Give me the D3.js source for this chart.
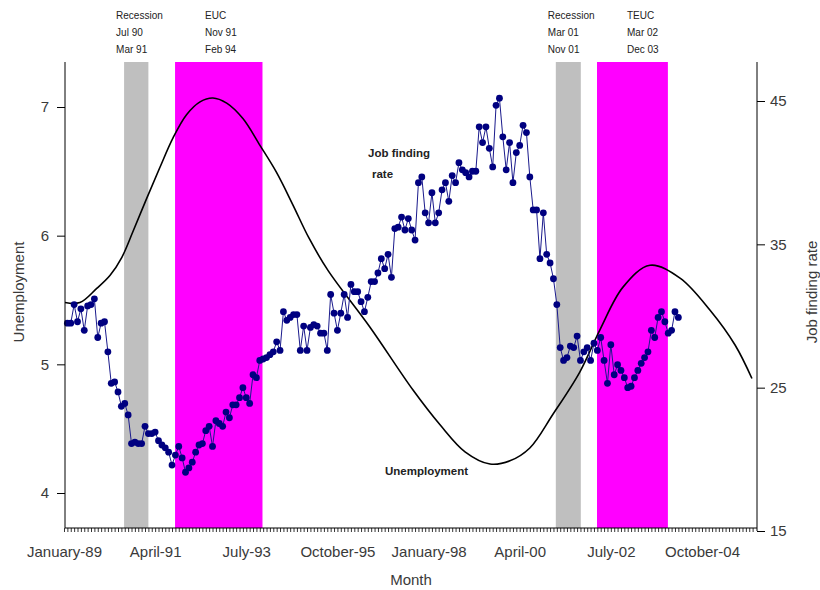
<!DOCTYPE html>
<html>
<head>
<meta charset="utf-8">
<script src="https://cdn.jsdelivr.net/npm/d3@7"></script>
<style>
  html, body { margin: 0; padding: 0; background: #fff; }
  svg { display: block; font-family: "Liberation Sans", Arial, sans-serif; }
</style>
</head>
<body>
<svg id="chart" width="820" height="590"></svg>
<script>
// ---------- DATA ----------
// x axis: months since January 1989
const xTickMonths = [0, 27, 54, 81, 108, 135, 162, 189];
const xTickLabels = ["January-89", "April-91", "July-93", "October-95", "January-98", "April-00", "July-02", "October-04"];
const leftTicks = [4, 5, 6, 7];
const rightTicks = [15, 25, 35, 45];

// shaded periods (months since Jan-89)
const bandNames  = ["Recession", "EUC", "Recession", "TEUC"];
const bandFrom   = ["Jul 90", "Nov 91", "Mar 01", "Mar 02"];
const bandTo     = ["Mar 91", "Feb 94", "Nov 01", "Dec 03"];
const bandStart  = [17.8, 32.9, 145.7, 157.9];
const bandEnd    = [25.0, 58.8, 153.1, 178.9];
const bandKind   = ["recession", "extension", "recession", "extension"];

// job finding rate (right axis), monthly from Feb-89
const jfrFirstMonth = 1;
const jobFinding = [
  29.5, 29.5, 30.8, 29.6, 30.5, 29.0, 30.7, 30.8, 31.2, 28.5, 29.5, 29.6,
  27.5, 25.3, 25.4, 24.7, 23.7, 23.9, 23.1, 21.1, 21.2, 21.1, 21.1, 22.3,
  21.8, 21.8, 21.9, 21.3, 21.0, 20.8, 20.5, 19.6, 20.3, 20.9, 20.1, 19.1,
  19.4, 19.8, 20.5, 21.0, 21.1, 22.0, 22.3, 20.9, 22.7, 22.5, 22.3, 23.3,
  22.9, 23.8, 23.8, 24.3, 25.0, 24.3, 23.9, 25.9, 25.7, 26.9, 27.0, 27.1,
  27.3, 27.5, 28.2, 27.6, 30.3, 29.7, 29.9, 30.1, 30.1, 27.6, 29.3, 27.6,
  29.2, 29.4, 29.3, 28.8, 28.8, 27.6, 31.5, 30.2, 29.0, 30.2, 31.5, 29.9,
  32.2, 31.7, 31.7, 31.0, 30.3, 31.3, 32.4, 32.4, 33.0, 34.0, 33.3, 34.3,
  32.7, 36.1, 36.2, 36.9, 36.0, 36.8, 36.0, 35.3, 39.3, 39.7, 37.2, 36.5,
  38.6, 36.5, 37.2, 38.8, 39.3, 38.0, 39.8, 39.3, 40.7, 40.2, 40.0, 39.7,
  40.1, 40.1, 43.2, 42.1, 43.2, 41.7, 40.4, 44.7, 45.2, 42.5, 40.2, 42.1,
  39.3, 41.4, 41.9, 43.3, 42.8, 39.7, 37.4, 37.4, 34.0, 37.2, 34.3, 33.7,
  32.6, 30.8, 27.8, 26.9, 27.1, 27.9, 27.8, 28.6, 26.9, 27.5, 27.8, 26.9,
  28.1, 27.6, 28.5, 26.9, 25.3, 28.0, 25.9, 26.6, 26.2, 25.7, 25.0, 25.1,
  25.7, 26.2, 26.7, 27.1, 27.5, 29.0, 28.5, 29.9, 30.3, 29.6, 28.8, 29.0,
  30.3, 29.9
];

// unemployment (left axis), smooth curve read at these months
const unempMonths = [0.3, 4.7, 9.7, 13.6, 17.1, 20.4, 24.5, 28.4, 32.3, 36.3, 40.3, 44.1, 48.2, 53.0, 58.1,
  63.0, 67.8, 72.6, 78.2, 90.6, 103.4, 111.4, 118.8, 126.2, 132.1, 138.0, 144.8, 152.8, 158.8, 165.6,
  173.6, 182.5, 191.4, 198.8, 203.8];
const unempValues = [5.48, 5.48, 5.59, 5.69, 5.83, 6.03, 6.29, 6.53, 6.76, 6.94, 7.04, 7.07, 7.03, 6.91, 6.70,
  6.49, 6.24, 5.98, 5.73, 5.29, 4.80, 4.53, 4.32, 4.225, 4.25, 4.35, 4.61, 4.94, 5.27, 5.60,
  5.77, 5.67, 5.42, 5.15, 4.89];

// ---------- LAYOUT ----------
const svg = d3.select("#chart");
const plot = { left: 65, right: 757, top: 62, bottom: 528 };

const x = d3.scaleLinear().domain([0, 205.3]).range([64, 757]);
const yL = d3.scaleLinear().domain([4, 7]).range([493, 107]);
const yR = d3.scaleLinear().domain([15, 45]).range([531, 101]);

const axisColor = "#000";
const textColor = "#3a3a3a";

// bands
const bands = bandStart.map((s, i) => ({ s, e: bandEnd[i], kind: bandKind[i], name: bandNames[i], from: bandFrom[i], to: bandTo[i] }));
svg.append("g").selectAll("rect").data(bands).join("rect")
  .attr("x", d => x(d.s)).attr("width", d => x(d.e) - x(d.s))
  .attr("y", plot.top).attr("height", plot.bottom - plot.top)
  .attr("fill", d => d.kind === "recession" ? "#bfbfbf" : "#ff00ff");

// band annotations
const ann = svg.append("g").attr("font-size", 10).attr("fill", "#222");
bands.forEach(d => {
  const tx = d.kind === "recession" ? x(d.s) - 8 : x(d.s) + 30;
  [d.name, d.from, d.to].forEach((t, k) => {
    ann.append("text").attr("x", tx).attr("y", 19 + k * 17).text(t);
  });
});

// unemployment curve
const ucurve = unempMonths.map((m, i) => [m, unempValues[i]]);
svg.append("path").datum(ucurve)
  .attr("fill", "none").attr("stroke", "#000").attr("stroke-width", 1.6)
  .attr("d", d3.line().x(d => x(d[0])).y(d => yL(d[1])).curve(d3.curveCatmullRom.alpha(0.5)));

// job finding series
const jpts = jobFinding.map((v, i) => [i + jfrFirstMonth, v]);
svg.append("path").datum(jpts)
  .attr("fill", "none").attr("stroke", "#1a1a8c").attr("stroke-width", 1)
  .attr("d", d3.line().x(d => x(d[0])).y(d => yR(d[1])));
svg.append("g").selectAll("circle").data(jpts).join("circle")
  .attr("cx", d => x(d[0])).attr("cy", d => yR(d[1])).attr("r", 3.4)
  .attr("fill", "#000080");

// axes lines
svg.append("line").attr("x1", plot.left).attr("x2", plot.left).attr("y1", plot.top).attr("y2", plot.bottom).attr("stroke", axisColor);
svg.append("line").attr("x1", plot.right).attr("x2", plot.right).attr("y1", plot.top).attr("y2", 531).attr("stroke", axisColor);
svg.append("line").attr("x1", plot.left).attr("x2", plot.right).attr("y1", plot.bottom).attr("y2", plot.bottom).attr("stroke", axisColor);

// left axis
const gl = svg.append("g").attr("transform", `translate(${plot.left},0)`)
  .call(d3.axisLeft(yL).tickValues(leftTicks).tickSize(8).tickPadding(8).tickFormat(d3.format("d")));
gl.select(".domain").remove();
gl.selectAll("text").attr("font-size", 15).attr("fill", textColor).attr("font-family", "Liberation Sans, Arial, sans-serif");
gl.selectAll("line").attr("stroke", axisColor);

// right axis
const gr = svg.append("g").attr("transform", `translate(${plot.right},0)`)
  .call(d3.axisRight(yR).tickValues(rightTicks).tickSize(8).tickPadding(5).tickFormat(d3.format("d")));
gr.select(".domain").remove();
gr.selectAll("text").attr("font-size", 15).attr("fill", textColor).attr("font-family", "Liberation Sans, Arial, sans-serif");
gr.selectAll("line").attr("stroke", axisColor);

// bottom minor (monthly) ticks
const gbm = svg.append("g").attr("transform", `translate(0,${plot.bottom})`)
  .call(d3.axisBottom(x).tickValues(d3.range(0, 205)).tickSize(4).tickFormat(""));
gbm.select(".domain").remove();
gbm.selectAll("line").attr("stroke", "#000").attr("stroke-width", 0.8);

// bottom labels
const gb = svg.append("g").attr("transform", `translate(0,${plot.bottom})`)
  .call(d3.axisBottom(x).tickValues(xTickMonths).tickSize(0).tickPadding(18)
    .tickFormat((d, i) => xTickLabels[i]));
gb.select(".domain").remove();
gb.selectAll("text").attr("font-size", 15).attr("fill", textColor).attr("font-family", "Liberation Sans, Arial, sans-serif");

// axis titles
svg.append("text").attr("x", (plot.left + plot.right) / 2).attr("y", 585)
  .attr("text-anchor", "middle").attr("font-size", 15).attr("fill", textColor).text("Month");
svg.append("text").attr("transform", "translate(24,292) rotate(-90)")
  .attr("text-anchor", "middle").attr("font-size", 15).attr("fill", textColor).text("Unemployment");
svg.append("text").attr("transform", "translate(817,292) rotate(-90)")
  .attr("text-anchor", "middle").attr("font-size", 15).attr("fill", textColor).text("Job finding rate");

// in-plot labels
svg.append("text").attr("x", 368).attr("y", 157).attr("font-size", 11.5).attr("font-weight", "bold").attr("fill", "#222").text("Job finding");
svg.append("text").attr("x", 372).attr("y", 178).attr("font-size", 11.5).attr("font-weight", "bold").attr("fill", "#222").text("rate");
svg.append("text").attr("x", 385).attr("y", 475).attr("font-size", 11.5).attr("font-weight", "bold").attr("fill", "#222").text("Unemployment");
</script>
</body>
</html>
